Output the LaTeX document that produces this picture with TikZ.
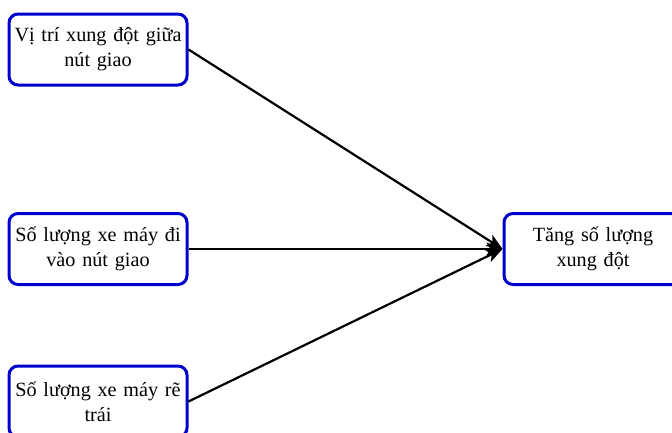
\documentclass[tikz,border=0pt]{standalone}
\usepackage{fontspec}
\setmainfont{Liberation Serif}
\usetikzlibrary{arrows.meta}
\definecolor{boxblue}{RGB}{0,0,204}
\begin{document}
\begin{tikzpicture}[x=1pt,y=-1pt,
  box/.style={draw=boxblue, line width=3pt, rounded corners=9pt, fill=white,
    minimum width=178pt, minimum height=71pt, align=center, inner sep=0pt,
    text width=176pt, font=\fontsize{20.2}{25}\selectfont},
  conn/.style={line width=2.2pt, draw=black, -{Stealth[length=16pt,width=13pt,inset=4pt]}}]
\useasboundingbox (0,0) rectangle (672,432);
\node[box] (a) at (98,49.5) {\raisebox{-2pt}{\parbox{176pt}{\centering Vị trí xung đột giữa\\nút giao}}};
\node[box] (b) at (98,249) {\raisebox{-2pt}{\parbox{176pt}{\centering Số lượng xe máy đi\\vào nút giao}}};
\node[box] (c) at (98,401.5) {\raisebox{-2pt}{\parbox{176pt}{\centering Số lượng xe máy rẽ\\trái}}};
\node[box] (d) at (593,249) {\raisebox{-2pt}{\parbox{176pt}{\centering Tăng số lượng\\xung đột}}};
\draw[conn] (a.east) -- (d.west);
\draw[conn] (b.east) -- (d.west);
\draw[conn] (c.east) -- (d.west);
\end{tikzpicture}
\end{document}
